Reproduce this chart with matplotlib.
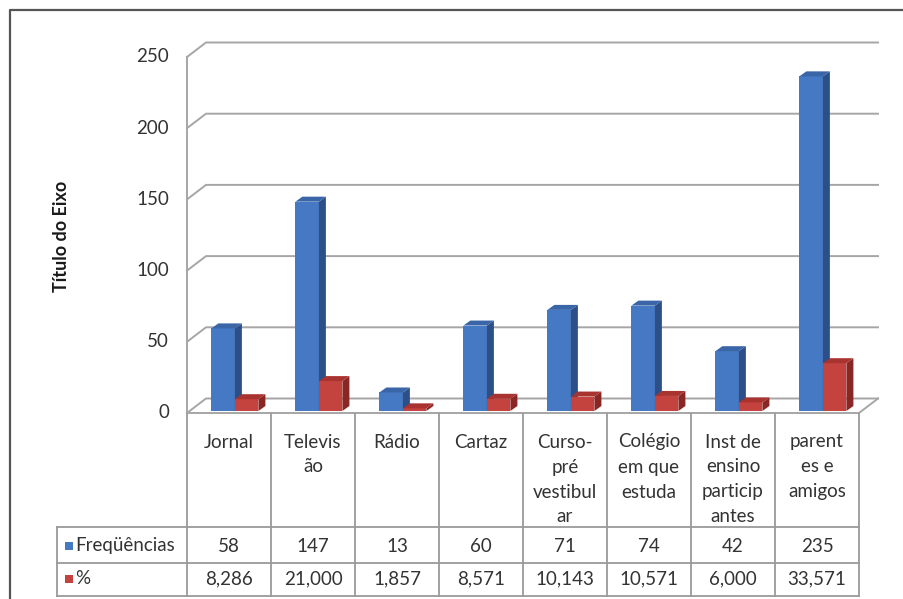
import matplotlib
matplotlib.use("Agg")
import matplotlib.pyplot as plt
from matplotlib.patches import Polygon, Rectangle
from matplotlib.lines import Line2D
from matplotlib.transforms import blended_transform_factory

# ---------------- data ----------------
categories = ["Jornal", "Televis\não", "Rádio", "Cartaz", "Curso-\npré\nvestibul\nar",
              "Colégio\nem que\nestuda", "Inst de\nensino\nparticip\nantes", "parent\nes e\namigos"]
freq = [58, 147, 13, 60, 71, 74, 42, 235]
pct = [8.286, 21.000, 1.857, 8.571, 10.143, 10.571, 6.000, 33.571]
freq_labels = ["58", "147", "13", "60", "71", "74", "42", "235"]
pct_labels = ["8,286", "21,000", "1,857", "8,571", "10,143", "10,571", "6,000", "33,571"]
series_names = ["Freqüências", "%"]
yticks = [0, 50, 100, 150, 200, 250]
ylabel = "Título do Eixo"

# ---------------- style ----------------
W, H = 904, 599
FONT = "Lato"
FS = 13.5
TXT = "#333333"
GRID = "#a6a6a6"
TABLE = "#9a9a9a"
blue = ("#4679c3", "#2b4f86", "#3a66a8")   # front, side, top
red = ("#c4433f", "#8a2624", "#a9332f")

fig = plt.figure(figsize=(W / 100, H / 100), dpi=100)
fig.patch.set_facecolor("white")

def fy(py):  # pixel from top -> figure fraction
    return (H - py) / H

def fx(px):
    return px / W

# plot axes: x 0..8 categories, y 0..250 values
ax = fig.add_axes([fx(187), fy(413), 672 / W, 356 / H])
ax.set_xlim(0, len(categories))
ax.set_ylim(0, 250)
ax.axis("off")

pxx = 672 / len(categories)       # pixels per category
pxy = 356 / 250                   # pixels per value unit
DX = 19 / pxx                     # floor depth (x units)
DY = 14.5 / pxy                   # floor depth (value units)
n = len(categories)

# gridlines on side wall + back wall
for v in yticks:
    ax.add_line(Line2D([0, DX, n + DX], [v, v + DY, v + DY], color=GRID, lw=1.4,
                       clip_on=False, zorder=1))
# front vertical axis
ax.add_line(Line2D([0, 0], [0, 250], color=GRID, lw=1.4, clip_on=False, zorder=1))
# floor front edge and right edge
ax.add_line(Line2D([0, n, n + DX], [0, 0, DY], color=GRID, lw=1.4, clip_on=False, zorder=1))

# bars
base = 2 / pxy
bdx = 7 / pxx
bdy = 5 / pxy
bw = 0.28
offs = [0.29, 0.57]
for i in range(n):
    for s, (vals, col) in enumerate([(freq, blue), (pct, red)]):
        v = vals[i]
        x0 = i + offs[s]
        ax.bar(x0, v, bottom=base, width=bw, align="edge", color=col[0], lw=0,
               zorder=3 + i * 2 + s, clip_on=False)
        side = Polygon([(x0 + bw, base), (x0 + bw + bdx, base + bdy),
                        (x0 + bw + bdx, base + v + bdy), (x0 + bw, base + v)],
                       closed=True, facecolor=col[1], lw=0, zorder=3 + i * 2 + s, clip_on=False)
        top = Polygon([(x0, base + v), (x0 + bdx, base + v + bdy),
                       (x0 + bw + bdx, base + v + bdy), (x0 + bw, base + v)],
                      closed=True, facecolor=col[2], lw=0, zorder=3 + i * 2 + s, clip_on=False)
        ax.add_patch(side)
        ax.add_patch(top)

# y tick labels
for v in yticks:
    ax.text(fx(169), v, str(v), transform=blended_transform_factory(fig.transFigure, ax.transData),
            ha="right", va="center", fontsize=FS, family=FONT, color=TXT)

# y axis title
fig.text(fx(62), fy(236), ylabel, rotation=90, ha="center", va="center",
         fontsize=13, family=FONT, fontweight="bold", color="#1a1a1a")

# ---------------- data table ----------------
bt = blended_transform_factory(ax.transData, fig.transFigure)
row_top, row1, row2, row3 = 414, 527, 563, 596
# vertical lines
for k in range(n + 1):
    ax.add_line(Line2D([k, k], [fy(row_top), fy(row3)], transform=bt, color=TABLE, lw=1.3,
                       clip_on=False))
# horizontal lines
for py in (row1, row2, row3):
    fig.add_artist(Line2D([fx(57), fx(859)], [fy(py), fy(py)], color=TABLE, lw=1.3))
fig.add_artist(Line2D([fx(57), fx(57)], [fy(row1), fy(row3)], color=TABLE, lw=1.3))

for i, cat in enumerate(categories):
    for j, line in enumerate(cat.split("\n")):
        ax.text(i + 0.5, fy(442 + 25 * j), line, transform=bt, ha="center", va="center",
                fontsize=FS, family=FONT, color=TXT)
    ax.text(i + 0.5, fy(546), freq_labels[i], transform=bt, ha="center", va="center",
            fontsize=FS, family=FONT, color=TXT)
    ax.text(i + 0.5, fy(579), pct_labels[i], transform=bt, ha="center", va="center",
            fontsize=FS, family=FONT, color=TXT)

# legend keys in the table
for name, col, py in [(series_names[0], blue[0], 546), (series_names[1], red[0], 579)]:
    fig.add_artist(Rectangle((fx(65), fy(py + 4)), 8 / W, 8 / H, transform=fig.transFigure,
                             facecolor=col, lw=0))
    fig.text(fx(75), fy(py), name, ha="left", va="center", fontsize=FS, family=FONT, color=TXT)

# outer chart border (left and top visible)
fig.add_artist(Line2D([fx(10), fx(10), fx(904)], [fy(599), fy(10), fy(10)],
                      color="#555555", lw=1.6))

fig.savefig("out.png", dpi=100, facecolor="white")
